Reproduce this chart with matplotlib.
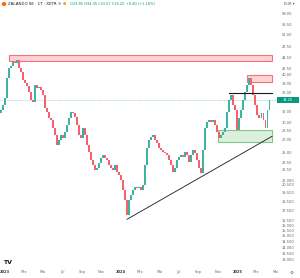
import matplotlib
matplotlib.use("Agg")
import matplotlib.dates as mdates
import matplotlib.pyplot as plt
import numpy as np
import pandas as pd
from matplotlib.patches import Rectangle
from matplotlib.ticker import FixedFormatter, FixedLocator, NullLocator

# closing prices, one every ~6 calendar days
CLOSES = [
    32.27, 33.27, 34.72, 39.22, 41.69, 42.20, 43.24, 42.98, 43.77, 41.69,
    40.69, 38.75, 38.05, 37.36, 36.01, 34.30, 33.88, 37.58, 36.90, 37.13,
    36.46, 35.36, 32.67, 31.88, 30.73, 30.36, 28.92, 27.71, 26.07, 26.88,
    27.71, 27.21, 28.22, 29.45, 30.73, 31.88, 31.69, 30.92, 29.45, 27.71,
    27.21, 28.92, 27.71, 26.07, 24.98, 23.79, 23.08, 22.38, 22.66, 23.36,
    24.08, 24.53, 24.08, 23.79, 23.08, 22.66, 22.38, 23.08, 22.11, 21.71,
    21.06, 19.81, 18.64, 17.01, 18.64, 19.22, 19.81, 20.18, 20.06, 20.18,
    19.81, 20.43, 23.08, 25.60, 26.88, 27.37, 27.71, 26.88, 26.39, 25.60,
    25.29, 24.98, 24.83, 24.53, 23.79, 23.08, 22.11, 22.66, 23.79, 24.23,
    24.53, 24.23, 24.98, 24.53, 23.50, 24.53, 25.29, 24.83, 23.79, 22.66,
    21.98, 25.29, 28.92, 30.00, 30.36, 30.00, 30.36, 29.45, 28.22, 27.21,
    27.71, 28.22, 28.92, 31.88, 34.30, 35.36, 33.27, 32.27, 28.60, 30.73,
    32.27, 34.30, 36.01, 37.58, 39.22, 37.58, 35.36, 33.27, 31.30, 30.73,
    31.69, 30.36, 28.92, 32.27, 34.25,
]
FIRST_DATE = "2022-12-19"

PRICE_TICKS = [58.0, 54.5, 51.0, 47.5, 44.5, 41.5, 40.0, 38.0, 36.0, 32.0,
               30.0, 28.5, 27.0, 25.0, 23.5, 22.5, 21.0, 20.5, 19.5, 18.5,
               17.5, 16.5, 16.0, 15.5, 15.0, 14.5, 14.0, 13.5, 13.0]
MONTH_TICKS = ["2023-01-01", "2023-03-01", "2023-05-01", "2023-07-01", "2023-09-01",
               "2023-11-01", "2024-01-01", "2024-03-01", "2024-05-01", "2024-07-01",
               "2024-09-01", "2024-11-01", "2025-01-01", "2025-03-01", "2025-05-01"]
MONTH_LABELS = ["2023", "Mrz", "Mai", "Jul", "Sep", "Nov", "2024", "Mrz", "Mai",
                "Jul", "Sep", "Nov", "2025", "Mrz", "Mai"]

# drawings: (start, end, low, high)
RED_ZONES = [("2023-01-13", "2025-04-20", 43.5, 45.2),
             ("2025-02-01", "2025-04-20", 38.3, 39.9)]
GREEN_ZONES = [("2024-11-01", "2025-04-20", 26.5, 28.6)]
RESISTANCE = ("2024-12-06", "2025-04-20", 35.8)
TRENDLINE = (("2024-01-20", 16.6), ("2025-04-20", 27.5))

LAST_PRICE = "34.25"
HEADER_OHLC = "O33.85 H34.35 L33.57 C34.25 +0.40 (+1.18%)"

UP = "#3bb3a0"
DOWN = "#f5606c"
TEAL = "#089981"

fig = plt.figure(figsize=(3.0, 2.78), dpi=100)
ax = fig.add_axes([0, 10 / 278, 276 / 300, 268 / 278])

closes = np.asarray(CLOSES, dtype=float)
opens = np.concatenate([[closes[0] * 0.985], closes[:-1]])
dates = pd.Timestamp(FIRST_DATE) + pd.to_timedelta(np.arange(len(closes)) * 6.3, unit="D")
x = mdates.date2num(dates)

bottoms = np.minimum(opens, closes)
heights = np.maximum(np.abs(closes - opens), 0.06)
colors = [UP if c >= o else DOWN for o, c in zip(opens, closes)]
ax.bar(x, heights, bottom=bottoms, width=3.6, color=colors, linewidth=0, zorder=3)

d = mdates.datestr2num
for start, end, lo, hi in RED_ZONES:
    ax.add_patch(Rectangle((d(start), lo), d(end) - d(start), hi - lo,
                           facecolor="#f23645", alpha=0.22, edgecolor="none", zorder=2))
    ax.add_patch(Rectangle((d(start), lo), d(end) - d(start), hi - lo,
                           facecolor="none", edgecolor="#f4737a", linewidth=0.8, zorder=2))
for start, end, lo, hi in GREEN_ZONES:
    ax.add_patch(Rectangle((d(start), lo), d(end) - d(start), hi - lo,
                           facecolor="#4caf50", alpha=0.2, edgecolor="none", zorder=2))
    ax.add_patch(Rectangle((d(start), lo), d(end) - d(start), hi - lo,
                           facecolor="none", edgecolor="#81c784", linewidth=0.8, zorder=2))

ax.plot([d(RESISTANCE[0]), d(RESISTANCE[1])], [RESISTANCE[2]] * 2,
        color="#131722", linewidth=0.8, zorder=4)
(t0, p0), (t1, p1) = TRENDLINE
ax.plot([d(t0), d(t1)], [p0, p1], color="#131722", linewidth=0.6, zorder=4)
ax.axhline(float(LAST_PRICE), color=TEAL, linewidth=0.4, linestyle=(0, (1, 2)), zorder=1)

ax.set_yscale("log")
ax.set_ylim(12.34, 63.1)
ax.set_xlim(d("2022-12-16"), d("2025-05-03"))

ax.yaxis.tick_right()
ax.yaxis.set_major_locator(FixedLocator(PRICE_TICKS))
ax.yaxis.set_major_formatter(FixedFormatter(
    [f"{v:.2f}" if v > 21.5 else f"{v:.3f}" for v in PRICE_TICKS]))
ax.yaxis.set_minor_locator(NullLocator())
ax.tick_params(axis="y", length=0, pad=4, labelsize=2.6, labelcolor="#666666")

ax.xaxis.set_major_locator(FixedLocator([d(m) for m in MONTH_TICKS]))
ax.xaxis.set_major_formatter(FixedFormatter(MONTH_LABELS))
ax.xaxis.set_minor_locator(NullLocator())
ax.tick_params(axis="x", length=0, pad=1.5, labelsize=2.6, labelcolor="#666666")
for lbl in ax.get_xticklabels():
    if lbl.get_text().isdigit():
        lbl.set_fontweight("bold")
        lbl.set_color("#333333")

for s in ax.spines.values():
    s.set_visible(False)

# last price tag on the price scale
y_tag = ax.transData.transform((0, float(LAST_PRICE)))[1] / fig.bbox.height
fig.patches.append(Rectangle((277 / 300, y_tag - 3 / 278), 22 / 300, 6 / 278,
                             transform=fig.transFigure, facecolor=TEAL, edgecolor="none"))
fig.text(288 / 300, y_tag, LAST_PRICE, color="white", fontsize=2.6,
         ha="center", va="center")

# header
fig.patches.append(plt.Circle((4 / 300, 1 - 4 / 278), 2.2 / 300, transform=fig.transFigure,
                              facecolor="#ff6900", edgecolor="none"))
fig.text(8 / 300, 1 - 4 / 278, "ZALANDO SE · 1T · XETR", fontsize=2.9,
         color="#131722", va="center")
fig.text(58 / 300, 1 - 4 / 278, "●", fontsize=2.6, color="#b2b5be", va="center")
fig.text(63 / 300, 1 - 4 / 278, "●", fontsize=2.6, color="#ff9800", va="center")
fig.text(70 / 300, 1 - 4 / 278, HEADER_OHLC, fontsize=2.6, color=TEAL, va="center")
fig.text(289 / 300, 1 - 4 / 278, "EUR ▾", fontsize=2.6, color="#555555",
         ha="center", va="center")
fig.text(8 / 300, 16 / 278, "TV", fontsize=4.5, fontweight="bold", color="#131722",
         ha="center", va="center")
fig.text(292 / 300, 5 / 278, "⚙", fontsize=3.2, color="#555555", ha="center", va="center")

fig.savefig("out.png", dpi=100, facecolor="white")
plt.close(fig)
